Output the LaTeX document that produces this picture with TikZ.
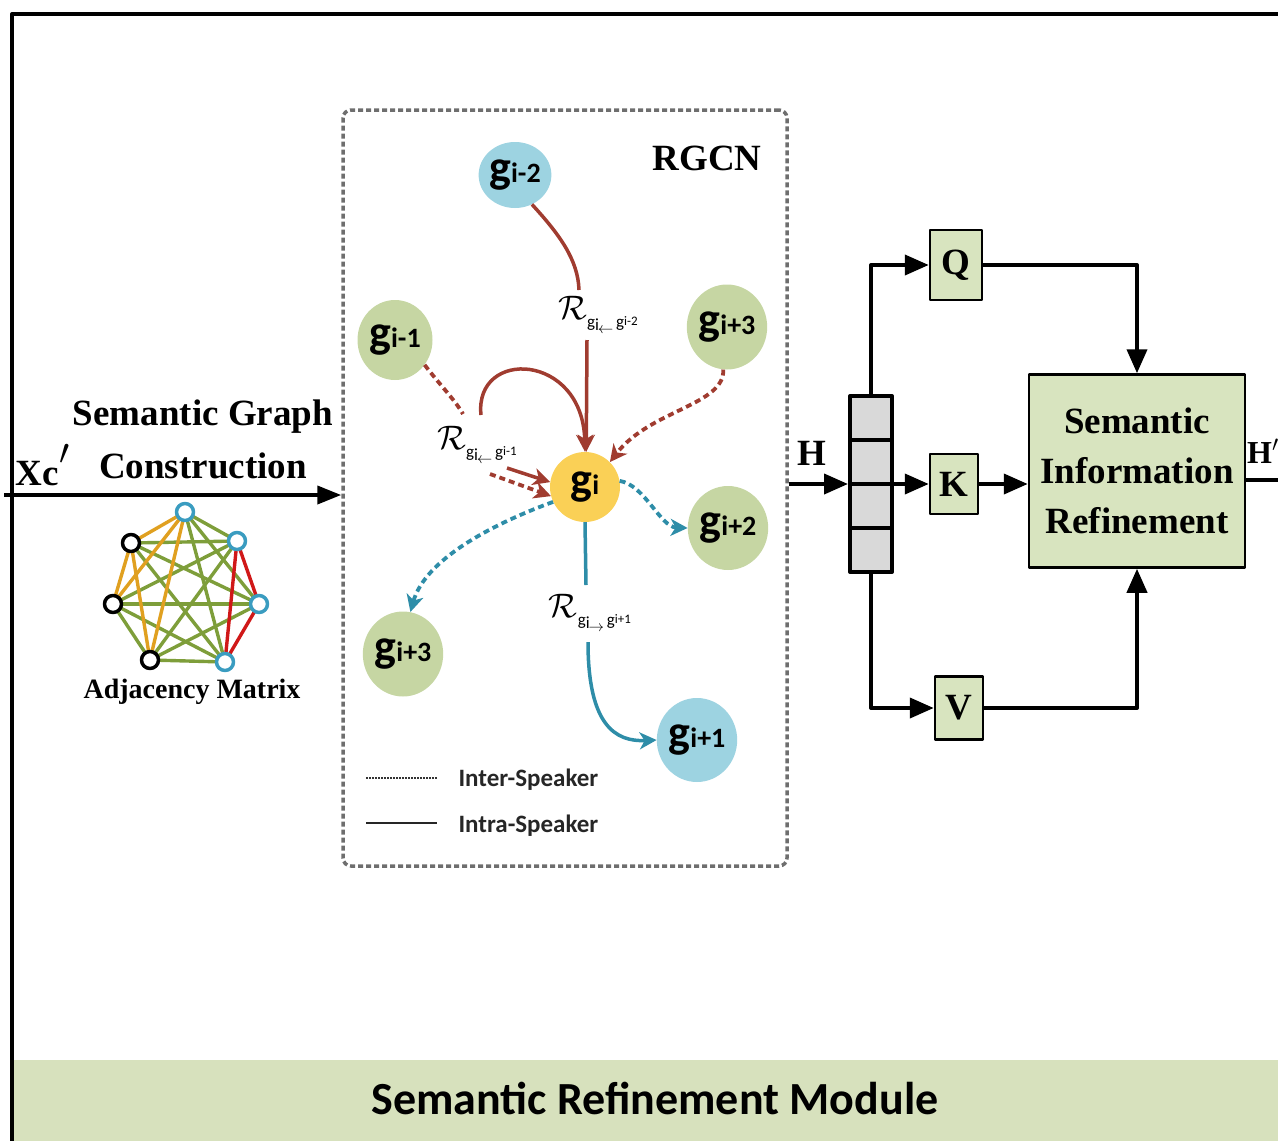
\documentclass[tikz,border=0pt]{standalone}
\usepackage{fix-cm}
\usepackage{fontspec}
\setmainfont{Liberation Serif}
\newfontfamily\glfont{Carlito}
\usetikzlibrary{arrows.meta,shapes.geometric}
\definecolor{nodeblue}{HTML}{9DD3E1}
\definecolor{nodegreen}{HTML}{C6D6A3}
\definecolor{nodeyellow}{HTML}{FAD056}
\definecolor{relred}{HTML}{A03C30}
\definecolor{relteal}{HTML}{2E8DA8}
\definecolor{boxgreen}{HTML}{D8E4BF}
\definecolor{bandgreen}{HTML}{D7E1BD}
\definecolor{stackgray}{HTML}{D9D9D9}
\definecolor{adjorange}{HTML}{E0A020}
\definecolor{adjgreen}{HTML}{7E9E3A}
\definecolor{adjred}{HTML}{D01818}
\definecolor{adjblue}{HTML}{3A9CC0}
\definecolor{framegray}{HTML}{6E6E6E}
% node label g with a subscript-like index
\newcommand\gname[1]{{\glfont\bfseries\fontsize{46}{46}\selectfont g\fontsize{28}{28}\selectfont #1}}
% relation label R with its small index
\newcommand\rlabel[2]{\scalebox{3.4}{$\mathcal{R}$}\raisebox{-8pt}{\glfont\fontsize{17}{17}\selectfont g\raisebox{-3pt}{i}\kern-1pt\raisebox{-6pt}{\scalebox{1.3}{$\scriptstyle#1$}}\,g\raisebox{2pt}{\fontsize{13}{13}\selectfont #2}}}
\newcommand\serifbig{\fontsize{37}{50}\selectfont\bfseries}
\begin{document}
\begin{tikzpicture}[x=1pt,y=-1pt,line join=round,
  gnode/.style={ellipse,inner sep=0pt},
  adjnode/.style={circle,fill=white,line width=3.5pt,minimum size=17pt,inner sep=0pt},
  adjedge/.style={line width=3.4pt},
  relsolid/.style={relred,line width=3.5pt},
  reldash/.style={relred,line width=3.8pt,dash pattern=on 6pt off 4pt},
  tealsolid/.style={relteal,line width=3.5pt},
  tealdash/.style={relteal,line width=3.8pt,dash pattern=on 6pt off 4pt},
  relarrow/.style={-{Stealth[length=17pt,width=17pt,inset=5pt]}},
  blk/.style={line width=4pt,-{Triangle[length=24pt,width=20pt]}},
  qkv/.style={draw,line width=2.5pt,fill=boxgreen,inner sep=0pt,font=\serifbig},
  legendtext/.style={font=\glfont\bfseries\fontsize{25}{25}\selectfont,text=black!85,anchor=base west}
]
\useasboundingbox (0,0) rectangle (1278,1141);

% bottom band with module title
\fill[bandgreen] (14,1060) rectangle (1278,1141);
\node[font=\glfont\bfseries\fontsize{46}{46}\selectfont,anchor=base] (band) at (655,1114) {Semantic Refinement Module};

% outer frame
\draw[line width=4pt] (12,1141) -- (12,14) -- (1278,14);

% ---------- graph construction ----------
\node[font=\serifbig,anchor=base west] (xc) at (12,485) {Xc\kern1pt\raisebox{2pt}{\scalebox{1.4}{$'$}}};
\node[font=\serifbig,anchor=base] (sg1) at (203,425) {Semantic Graph};
\node[font=\serifbig,anchor=base] (sg2) at (203,478) {Construction};

\node[draw=framegray,line width=3.5pt,dash pattern=on 5pt off 3pt,rounded corners=8pt,
      minimum width=444pt,minimum height=756pt] (rgcn) at (565,488) {};
\coordinate (xstart) at (4,495);
\draw[line width=4pt,-{Triangle[length=24pt,width=18pt]}] (xstart) -- (xstart -| rgcn.west);

% adjacency graph
\coordinate (aT) at (185,512);
\coordinate (aUL) at (131,543);
\coordinate (aUR) at (237,541);
\coordinate (aL) at (113,604);
\coordinate (aR) at (259,604);
\coordinate (aBL) at (150,660);
\coordinate (aBR) at (225,662);
\foreach \u/\v in {aT/aUR,aT/aR,aT/aBR,aUL/aUR,aUL/aR,aUL/aBR,aL/aUR,aL/aR,aL/aBR,aL/aBL,aBL/aUR,aBL/aR,aBL/aBR}
  \draw[adjedge,adjgreen] (\u) -- (\v);
\foreach \u/\v in {aT/aUL,aUL/aL,aT/aL,aT/aBL,aUL/aBL}
  \draw[adjedge,adjorange] (\u) -- (\v);
\foreach \u/\v in {aUR/aR,aUR/aBR,aR/aBR}
  \draw[adjedge,adjred] (\u) -- (\v);
\node[adjnode,draw=adjblue] (nT) at (aT) {};
\node[adjnode,draw=black] (nUL) at (aUL) {};
\node[adjnode,draw=adjblue] (nUR) at (aUR) {};
\node[adjnode,draw=black] (nL) at (aL) {};
\node[adjnode,draw=adjblue] (nR) at (aR) {};
\node[adjnode,draw=black] (nBL) at (aBL) {};
\node[adjnode,draw=adjblue] (nBR) at (aBR) {};
\node[font=\bfseries\fontsize{28}{28}\selectfont,anchor=base] (adjlbl) at (192,698) {Adjacency Matrix};

% ---------- RGCN ----------
\node[font=\serifbig,anchor=base] (rgcnlbl) at (707,170) {RGCN};

\node[gnode,fill=nodeblue,minimum width=65pt,minimum height=66pt] (gm2) at (515,175) {\gname{i-2}};
\node[gnode,fill=nodegreen,minimum width=75pt,minimum height=80pt] (gm1) at (395,340) {\gname{i-1}};
\node[gnode,fill=nodegreen,minimum width=76pt,minimum height=85pt] (gp3a) at (727,327) {\gname{i+3}};
\node[gnode,fill=nodeyellow,minimum width=70pt,minimum height=70pt] (gi) at (585,487) {\gname{i}};
\node[gnode,fill=nodegreen,minimum width=80pt,minimum height=84pt] (gp2) at (728,528) {\gname{i+2}};
\node[gnode,fill=nodegreen,minimum width=76pt,minimum height=85pt] (gp3b) at (403,654) {\gname{i+3}};
\node[gnode,fill=nodeblue,minimum width=78pt,minimum height=84pt] (gp1) at (697,740) {\gname{i+1}};

% gi-2 -> gi
\coordinate (a1) at (579,290);
\coordinate (a2) at (587,340);
\node[inner sep=0pt] (ra) at (598,315) {\rlabel{\leftarrow}{i-2}};
\draw[relsolid] (gm2.-60) .. controls (560,235) and (578,260) .. (a1);
\draw[relsolid,relarrow] (a2) -- (gi.88);
% loop over the top of gi
\coordinate (b1) at (481,415);
\draw[relsolid,relarrow] (b1) .. controls (474,348) and (583,352) .. (gi.90);

% gi-1 -> gi
\coordinate (c1) at (463,414);
\coordinate (c2) at (490,474);
\coordinate (c3) at (507,468);
\node[inner sep=0pt] (rb) at (477,445) {\rlabel{\leftarrow}{i-1}};
\draw[reldash] (gm1.-40) .. controls (440,385) and (455,400) .. (c1);
\draw[reldash,relarrow] (c2) -- (gi.195);
\draw[relsolid,relarrow] (c3) -- (gi.172);

% gi+3 -> gi
\draw[reldash,relarrow] (gp3a.-95) .. controls (725,405) and (650,410) .. (gi.45);

% gi -> gi+2
\draw[tealdash,relarrow] (gi.10) .. controls (645,485) and (660,527) .. (gp2.west);
% gi -> gi+3
\draw[tealdash,relarrow] (gi.205) .. controls (490,525) and (425,560) .. (gp3b.80);
% gi -> gi+1
\coordinate (d1) at (586,585);
\coordinate (d2) at (588,642);
\node[inner sep=0pt] (rc) at (590,613) {\rlabel{\rightarrow}{i+1}};
\draw[tealsolid] (gi.south) -- (d1);
\draw[tealsolid,relarrow] (d2) .. controls (588,725) and (615,742) .. (gp1.west);

% legend
\coordinate (l1a) at (366,778);
\coordinate (l1b) at (437,778);
\coordinate (l2a) at (366,823);
\coordinate (l2b) at (437,823);
\draw[line width=1.2pt,dash pattern=on 2pt off 1pt,black!80] (l1a) -- (l1b);
\draw[line width=2pt,black!85] (l2a) -- (l2b);
\node[legendtext] (lg1) at (455,786) {Inter-Speaker};
\node[legendtext] (lg2) at (455,832) {Intra-Speaker};

% ---------- Q/K/V attention ----------
\node[draw,line width=4pt,fill=stackgray,minimum width=42pt,minimum height=176pt,inner sep=0pt] (stk) at (871,484) {};
\draw[line width=4pt] (850,440) -- (892,440);
\draw[line width=4pt] (850,484) -- (892,484);
\draw[line width=4pt] (850,528) -- (892,528);

\node[qkv,minimum width=52pt,minimum height=70pt] (q) at (956,265) {Q};
\node[qkv,minimum width=48pt,minimum height=60pt] (k) at (954,484) {K};
\node[qkv,minimum width=48pt,minimum height=63pt] (v) at (959,708) {V};
\node[qkv,minimum width=216pt,minimum height=193pt,align=center] (sir) at (1137,471) {Semantic\\Information\\Refinement};

\node[font=\serifbig,anchor=base] (hlbl) at (812,465) {H};
\draw[blk] (rgcn.east |- stk.west) -- (stk.west);
\draw[blk] (stk.east) -- (k.west);
\draw[blk] (k.east) -- (k.east -| sir.west);
\draw[blk] (stk.north) |- (q.west);
\draw[blk] (q.east) -| (sir.north);
\draw[blk] (stk.south) |- (v.west);
\draw[blk] (v.east) -| (sir.south);
\coordinate (hout) at (1282,480);
\draw[line width=4pt] (sir.east |- hout) -- (hout);
\node[font=\bfseries\fontsize{32}{40}\selectfont,anchor=base west,inner sep=0pt] (hplbl) at (1247,463) {H$'$};
\end{tikzpicture}
\end{document}
